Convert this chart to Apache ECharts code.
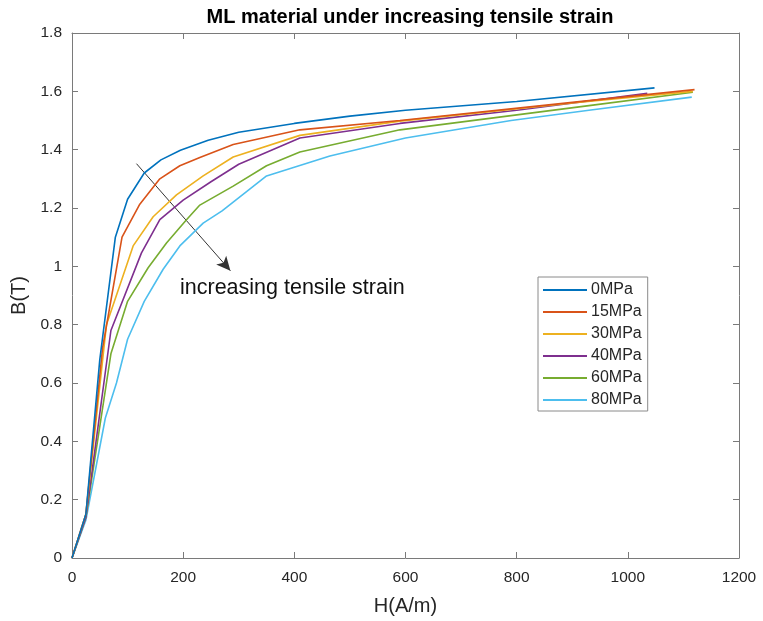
<!DOCTYPE html>
<html>
<head>
<meta charset="utf-8">
<script src="https://cdn.jsdelivr.net/npm/echarts@6/dist/echarts.min.js"></script>
<style>
  html, body { margin: 0; padding: 0; background: #fff; }
  #main { width: 763px; height: 621px; }
</style>
</head>
<body>
<div id="main"></div>
<script>
var chartDom = document.getElementById('main');
var myChart = echarts.init(chartDom);

// B-H curves, [H (A/m), B (T)]
const names = ['0MPa', '15MPa', '30MPa', '40MPa', '60MPa', '80MPa'];
const colors = ['#0072BD', '#D95319', '#EDB120', '#7E2F8E', '#77AC30', '#4DBEEE'];

const mpa0 = [[0, 0], [25, 0.15], [50, 0.68], [78, 1.1], [100, 1.23], [130, 1.32], [160, 1.365],
  [195, 1.398], [245, 1.432], [300, 1.46], [400, 1.49], [500, 1.515], [600, 1.535], [800, 1.565], [1048, 1.612]];
const mpa15 = [[0, 0], [25, 0.15], [55, 0.72], [90, 1.1], [122, 1.213], [158, 1.3], [194, 1.345],
  [230, 1.373], [290, 1.418], [410, 1.468], [590, 1.5], [930, 1.568], [1120, 1.606]];
const mpa30 = [[0, 0], [25, 0.15], [62, 0.8], [110, 1.07], [146, 1.17], [188, 1.245], [236, 1.31],
  [290, 1.375], [410, 1.449], [590, 1.498], [900, 1.56], [1117, 1.6]];
const mpa40 = [[0, 0], [25, 0.14], [70, 0.78], [125, 1.046], [158, 1.16], [200, 1.227], [250, 1.29],
  [300, 1.35], [410, 1.44], [590, 1.49], [800, 1.535], [1035, 1.593]];
const mpa60 = [[0, 0], [25, 0.14], [70, 0.70], [100, 0.88], [137, 0.995], [170, 1.08], [206, 1.16],
  [230, 1.21], [290, 1.275], [350, 1.345], [410, 1.392], [590, 1.468], [930, 1.551], [1117, 1.597]];
const mpa80 = [[0, 0], [25, 0.13], [60, 0.48], [80, 0.6], [100, 0.75], [130, 0.88], [164, 0.99],
  [194, 1.07], [236, 1.148], [270, 1.19], [350, 1.31], [464, 1.378], [600, 1.44], [790, 1.5],
  [930, 1.535], [1115, 1.58]];
const curves = [mpa0, mpa15, mpa30, mpa40, mpa60, mpa80];

const xTicks = [0, 200, 400, 600, 800, 1000, 1200];
const yTicks = [0, 0.2, 0.4, 0.6, 0.8, 1, 1.2, 1.4, 1.6, 1.8];

// arrow annotation, in data units
const arrowFrom = [116, 1.352];
const arrowTo = [285, 0.985];

const font = 'Liberation Sans, Arial, sans-serif';
const axisColor = '#7a7a7a';
const labelColor = '#262626';

const series = names.map((name, i) => {
  const s = {
    name,
    type: 'line',
    data: curves[i],
    showSymbol: false,
    symbol: 'none',
    lineStyle: { color: colors[i], width: 1.6 },
    itemStyle: { color: colors[i] },
    animation: false,
    z: 10 - i
  };
  if (i === 0) {
    s.markLine = {
      silent: true,
      symbol: ['none', 'arrow'],
      symbolSize: [10, 14],
      label: { show: false },
      lineStyle: { color: '#333', width: 1, type: 'solid' },
      data: [[{ coord: arrowFrom }, { coord: arrowTo }]]
    };
  }
  return s;
});

// top and right edges of the box, with inward ticks like the bottom/left
function boxAxis(extra) {
  return Object.assign({
    type: 'value',
    axisLine: { show: true, onZero: false, lineStyle: { color: axisColor } },
    axisTick: { show: true, inside: true, length: 6, lineStyle: { color: axisColor } },
    axisLabel: { show: false },
    splitLine: { show: false }
  }, extra);
}

var option = {
  animation: false,
  textStyle: { fontFamily: font },
  title: {
    text: 'ML material under increasing tensile strain',
    left: 405,
    textAlign: 'center',
    top: 2,
    textStyle: { fontFamily: font, fontSize: 20, fontWeight: 'bold', color: '#000' }
  },
  legend: {
    orient: 'vertical',
    left: 538,
    top: 277,
    data: names,
    icon: 'rect',
    itemWidth: 44,
    itemHeight: 2,
    itemGap: 6,
    padding: [5, 6, 3, 5],
    borderColor: '#8a8a8a',
    borderWidth: 1,
    backgroundColor: '#fff',
    textStyle: { fontFamily: font, fontSize: 16, color: labelColor, padding: [0, 0, 0, -1] }
  },
  grid: { left: 72, right: 24, top: 33, bottom: 61, show: false },
  xAxis: [{
    type: 'value',
    min: 0, max: 1200, interval: 200,
    name: 'H(A/m)',
    nameLocation: 'middle',
    nameGap: 38,
    nameTextStyle: { fontFamily: font, fontSize: 20, color: labelColor },
    axisLine: { show: true, onZero: false, lineStyle: { color: axisColor } },
    axisTick: { show: true, inside: true, length: 6, lineStyle: { color: axisColor } },
    axisLabel: { fontFamily: font, fontSize: 15.5, color: labelColor, margin: 12,
      formatter: v => xTicks.indexOf(v) >= 0 ? String(v) : '' },
    splitLine: { show: false }
  }, boxAxis({ position: 'top', min: 0, max: 1200, interval: 200 })],
  yAxis: [{
    type: 'value',
    min: 0, max: 1.8, interval: 0.2,
    name: 'B(T)',
    nameLocation: 'middle',
    nameGap: 38,
    nameTextStyle: { fontFamily: font, fontSize: 20, color: labelColor },
    axisLine: { show: true, onZero: false, lineStyle: { color: axisColor } },
    axisTick: { show: true, inside: true, length: 6, lineStyle: { color: axisColor } },
    axisLabel: { fontFamily: font, fontSize: 15.5, color: labelColor, margin: 10,
      formatter: v => {
        const t = yTicks.find(y => Math.abs(y - v) < 1e-6);
        return t === undefined ? '' : String(t);
      } },
    splitLine: { show: false }
  }, boxAxis({ position: 'right', min: 0, max: 1.8, interval: 0.2 })],
  graphic: [{
    type: 'text',
    left: 180,
    top: 277,
    style: { text: 'increasing tensile strain', fontFamily: font, fontSize: 21.5, fill: '#111' }
  }],
  series
};

myChart.setOption(option);
</script>
</body>
</html>
